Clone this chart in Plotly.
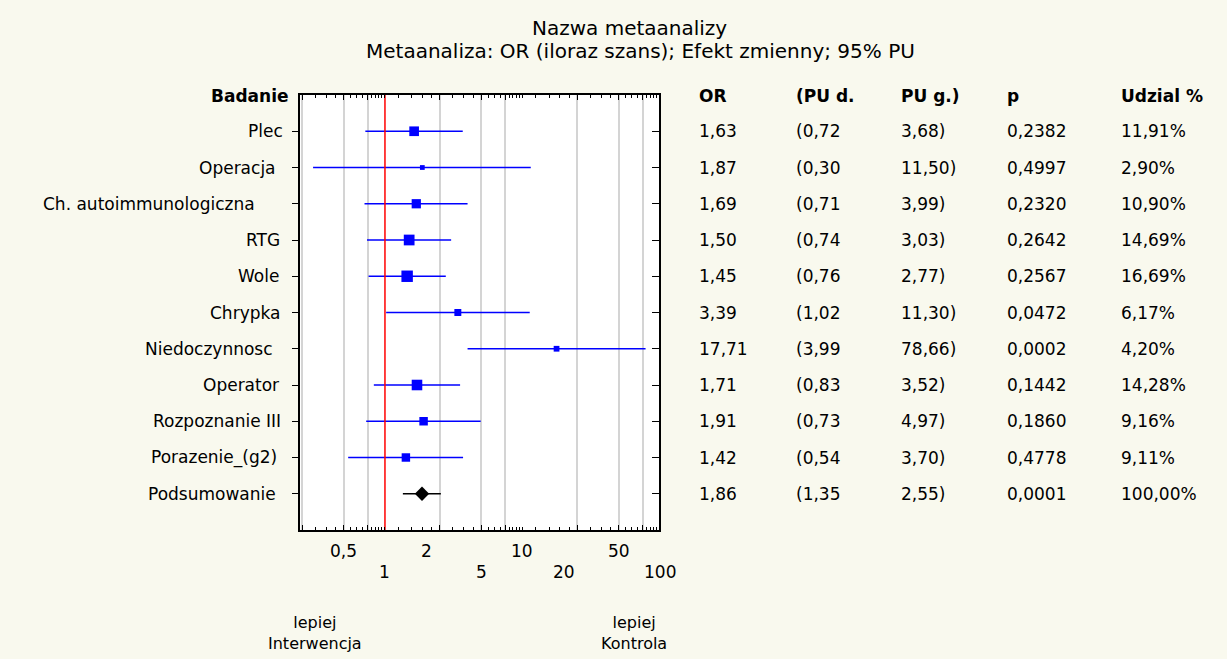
import math
import plotly.graph_objects as go

# ---------------- data ----------------
studies = ["Plec", "Operacja", "Ch. autoimmunologiczna", "RTG", "Wole", "Chrypka",
           "Niedoczynnosc", "Operator", "Rozpoznanie III", "Porazenie_(g2)", "Podsumowanie"]
odds_ratio = [1.63, 1.87, 1.69, 1.50, 1.45, 3.39, 17.71, 1.71, 1.91, 1.42, 1.86]
ci_low = [0.72, 0.30, 0.71, 0.74, 0.76, 1.02, 3.99, 0.83, 0.73, 0.54, 1.35]
ci_high = [3.68, 11.50, 3.99, 3.03, 2.77, 11.30, 78.66, 3.52, 4.97, 3.70, 2.55]
p_values = [0.2382, 0.4997, 0.2320, 0.2642, 0.2567, 0.0472, 0.0002, 0.1442, 0.1860, 0.4778, 0.0001]
weights = [11.91, 2.90, 10.90, 14.69, 16.69, 6.17, 4.20, 14.28, 9.16, 9.11, 100.00]

col_headers = ["OR", "(PU d.", "PU g.)", "p", "Udzial %"]
tick_upper = [0.5, 2, 10, 50]
tick_lower = [1, 5, 20, 100]
grid_vals = [0.25, 0.5, 0.75, 2.5, 5, 7.5, 25, 50, 75]

title_1 = "Nazwa metaanalizy"
title_2 = "Metaanaliza: OR (iloraz szans); Efekt zmienny; 95% PU"
row_header = "Badanie"
left_note = "lepiej<br>Interwencja"
right_note = "lepiej<br>Kontrola"

# ---------------- layout geometry ----------------
FIG_W, FIG_H = 1227, 659
L, R, T, B = 300, 659, 95, 530
PW, PH = R - L, B - T
FONT = "DejaVu Sans"
FS = 17


def px_x(px):
    return (px - L) / PW


def px_y(py):
    return (B - py) / PH


def fmt(v, d):
    return f"{v:.{d}f}".replace(".", ",")


n_st = len(studies) - 1
rows = list(range(1, len(studies) + 1))
xr = [math.log10(0.241), math.log10(98.5)]


def val_to_paper(v):
    return (math.log10(v) - xr[0]) / (xr[1] - xr[0])


fig = go.Figure()

# CI lines (individual studies)
lx, ly = [], []
for i in range(n_st):
    lx += [ci_low[i], ci_high[i], None]
    ly += [rows[i], rows[i], None]
fig.add_trace(go.Scatter(x=lx, y=ly, mode="lines", line=dict(color="#0000FF", width=1.6),
                         hoverinfo="skip"))

# reference line at OR = 1
fig.add_trace(go.Scatter(x=[1, 1], y=[0, len(studies) + 1], mode="lines",
                         line=dict(color="#FF0000", width=1.5), hoverinfo="skip"))

# squares
fig.add_trace(go.Scatter(x=odds_ratio[:n_st], y=rows[:n_st], mode="markers",
                         marker=dict(symbol="square", color="#0000FF", opacity=1,
                                     size=[2.8 * math.sqrt(w) for w in weights[:n_st]],
                                     line=dict(width=0)),
                         hoverinfo="skip"))

# summary
fig.add_trace(go.Scatter(x=[ci_low[-1], ci_high[-1]], y=[rows[-1], rows[-1]], mode="lines",
                         line=dict(color="black", width=1.6), hoverinfo="skip"))
fig.add_trace(go.Scatter(x=[odds_ratio[-1]], y=[rows[-1]], mode="markers",
                         marker=dict(symbol="diamond", color="black", size=11, opacity=1),
                         hoverinfo="skip"))

# invisible traces for helper axes
fig.add_trace(go.Scatter(x=[1], y=[1], xaxis="x2", yaxis="y", mode="markers",
                         marker=dict(opacity=0), hoverinfo="skip"))
fig.add_trace(go.Scatter(x=[1], y=[1], xaxis="x", yaxis="y2", mode="markers",
                         marker=dict(opacity=0), hoverinfo="skip"))

# minor tick positions
minor = [1, 10, 1.25, 12.5]
for a, b, n in [(0.25, 0.5, 4), (0.5, 0.75, 4), (0.75, 1, 5), (1.25, 2.5, 4), (2.5, 5, 4),
                (5, 7.5, 4), (7.5, 10, 5), (12.5, 25, 4), (25, 50, 4), (50, 75, 4), (75, 100, 5)]:
    st = (b - a) / n
    minor += [a + k * st for k in range(1, n)]

ann = []
# titles
ann.append(dict(text=title_1, x=px_x(629), y=px_y(28), xref="paper", yref="paper",
                xanchor="center", yanchor="middle", showarrow=False,
                font=dict(family=FONT, size=20, color="black")))
ann.append(dict(text=title_2, x=px_x(640), y=px_y(51), xref="paper", yref="paper",
                xanchor="center", yanchor="middle", showarrow=False,
                font=dict(family=FONT, size=20, color="black")))

# row labels
label_right_px = [285, 278, 257, 282, 281, 282, 275, 281, 283, 279, 278]
ann.append(dict(text=f"<b>{row_header}</b>", x=px_x(291), y=0, xref="paper", yref="y",
                xanchor="right", yanchor="middle", showarrow=False, yshift=-1,
                font=dict(family=FONT, size=FS, color="black")))
for i, s in enumerate(studies):
    ann.append(dict(text=s, x=px_x(label_right_px[i]), y=rows[i], xref="paper", yref="y",
                    xanchor="right", yanchor="middle", showarrow=False,
                    font=dict(family=FONT, size=FS, color="black")))

# table
col_px = [697, 794, 899, 1005, 1119]
for c, h in enumerate(col_headers):
    ann.append(dict(text=f"<b>{h}</b>", x=px_x(col_px[c]), y=0, xref="paper", yref="y",
                    xanchor="left", yanchor="middle", showarrow=False, yshift=-1,
                    font=dict(family=FONT, size=FS, color="black")))
for i in range(len(studies)):
    cells = [fmt(odds_ratio[i], 2), "(" + fmt(ci_low[i], 2), fmt(ci_high[i], 2) + ")",
             fmt(p_values[i], 4), fmt(weights[i], 2) + "%"]
    for c, t in enumerate(cells):
        ann.append(dict(text=t, x=px_x(col_px[c]), y=rows[i], xref="paper", yref="y",
                        xanchor="left", yanchor="middle", showarrow=False,
                        font=dict(family=FONT, size=FS, color="black")))

# tick labels (two staggered rows)
for v in tick_upper:
    ann.append(dict(text=fmt(v, 1) if v < 1 else str(v), x=val_to_paper(v), y=px_y(551),
                    xref="paper", yref="paper", xanchor="center", yanchor="middle",
                    showarrow=False, font=dict(family=FONT, size=FS, color="black")))
for v in tick_lower:
    ann.append(dict(text=str(v), x=val_to_paper(v), y=px_y(572),
                    xref="paper", yref="paper", xanchor="center", yanchor="middle",
                    showarrow=False, font=dict(family=FONT, size=FS, color="black")))

# direction notes
ann.append(dict(text=left_note, x=px_x(315), y=px_y(633), xref="paper", yref="paper",
                xanchor="center", yanchor="middle", showarrow=False,
                font=dict(family=FONT, size=FS - 1, color="black")))
ann.append(dict(text=right_note, x=px_x(634), y=px_y(633), xref="paper", yref="paper",
                xanchor="center", yanchor="middle", showarrow=False,
                font=dict(family=FONT, size=FS - 1, color="black")))

fig.update_layout(
    width=FIG_W, height=FIG_H,
    margin=dict(l=L, r=FIG_W - R, t=T, b=FIG_H - B, pad=0),
    paper_bgcolor="#F9F9EE", plot_bgcolor="white",
    showlegend=False, hovermode=False,
    annotations=ann,
    xaxis=dict(type="log", range=xr, tickvals=grid_vals, showticklabels=False,
               showgrid=True, gridcolor="#D4D4D4", gridwidth=1.5,
               ticks="inside", ticklen=5, tickwidth=1.2, tickcolor="black",
               showline=True, linecolor="black", linewidth=2, mirror="ticks",
               zeroline=False, fixedrange=True),
    xaxis2=dict(type="log", range=xr, overlaying="x", anchor="y", side="bottom",
                tickvals=minor, showticklabels=False, showgrid=False,
                ticks="inside", ticklen=3, tickwidth=1.2, tickcolor="black",
                showline=False, mirror="ticks", zeroline=False, fixedrange=True),
    yaxis=dict(range=[len(studies) + 1, 0], tickvals=rows, showticklabels=False,
               showgrid=False, zeroline=False, ticks="outside", ticklen=6,
               tickwidth=1.2, tickcolor="black",
               showline=True, linecolor="black", linewidth=2, mirror=True,
               fixedrange=True),
    yaxis2=dict(range=[len(studies) + 1, 0], overlaying="y", anchor="x", side="right",
                tickvals=rows, showticklabels=False, showgrid=False, zeroline=False,
                ticks="inside", ticklen=7, tickwidth=1.2, tickcolor="black",
                showline=False, fixedrange=True),
)

fig.write_html("out.html")
